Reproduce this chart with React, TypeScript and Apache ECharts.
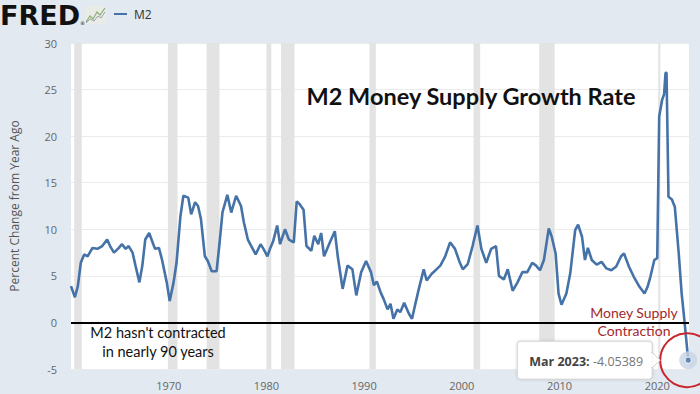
import React, { useEffect, useRef } from "react";
import * as echarts from "echarts";

const years = [
  1960.0, 1960.4, 1960.7, 1961.0, 1961.35, 1961.7, 1962.2, 1962.7, 1963.2, 1963.7,
  1964.0, 1964.4, 1964.9, 1965.2, 1965.6, 1965.9, 1966.3, 1966.6, 1967.0, 1967.3,
  1967.6, 1968.0, 1968.3, 1968.6, 1969.0, 1969.3, 1969.8, 1970.1, 1970.5, 1970.8,
  1971.2, 1971.5, 1972.0, 1972.3, 1972.7, 1973.0, 1973.3, 1973.7, 1974.0, 1974.4,
  1974.9, 1975.2, 1975.5, 1976.0, 1976.4, 1976.9, 1977.4, 1977.7, 1978.1, 1978.6,
  1978.9, 1979.4, 1979.7, 1980.1, 1980.4, 1980.7, 1981.1, 1981.4, 1981.9, 1982.3,
  1982.8, 1983.1, 1983.4, 1983.8, 1984.1, 1984.6, 1984.9, 1985.3, 1985.6, 1985.9,
  1986.5, 1987.0, 1987.3, 1987.8, 1988.3, 1988.8, 1989.2, 1989.7, 1990.2, 1990.7,
  1991.0, 1991.3, 1991.7, 1992.0, 1992.4, 1992.7, 1993.0, 1993.4, 1993.7, 1994.1,
  1994.6, 1994.9, 1995.2, 1995.6, 1996.1, 1996.4, 1996.9, 1997.4, 1997.8, 1998.3,
  1998.8, 1999.3, 1999.8, 2000.1, 2000.6, 2001.1, 2001.6, 2002.0, 2002.5, 2003.0,
  2003.5, 2003.8, 2004.3, 2004.7, 2005.2, 2005.7, 2006.2, 2006.7, 2007.2, 2007.6,
  2008.0, 2008.4, 2008.9, 2009.2, 2009.6, 2009.9, 2010.2, 2010.7, 2011.1, 2011.6,
  2011.9, 2012.3, 2012.6, 2012.9, 2013.3, 2013.8, 2014.3, 2014.8, 2015.3, 2015.8,
  2016.3, 2016.6, 2017.1, 2017.6, 2018.2, 2018.7, 2019.0, 2019.3, 2019.7, 2020.0,
  2020.2, 2020.5, 2020.7, 2020.85, 2020.95, 2021.15, 2021.5, 2021.8, 2022.2, 2022.5,
  2022.8, 2023.17,
];

const values = [
  3.9, 2.7, 3.9, 6.4, 7.3, 7.1, 8.0, 7.9, 8.2, 8.9,
  8.2, 7.5, 8.0, 8.4, 7.9, 8.2, 7.5, 6.1, 4.3, 6.1,
  8.9, 9.6, 8.75, 7.9, 8.0, 6.8, 4.3, 2.3, 4.3, 6.4,
  11.4, 13.6, 13.4, 11.6, 12.9, 12.5, 11.1, 7.1, 6.6, 5.5,
  5.5, 8.5, 11.8, 13.7, 11.8, 13.6, 12.5, 10.7, 8.9, 7.9,
  7.3, 8.4, 7.9, 7.1, 8.0, 8.75, 10.4, 8.4, 10.0, 8.9,
  8.6, 13.0, 12.7, 12.1, 8.2, 7.7, 9.3, 8.4, 9.6, 7.1,
  8.6, 9.8, 7.1, 3.6, 6.1, 5.7, 2.9, 5.4, 6.6, 5.4,
  4.0, 4.4, 3.2, 2.5, 1.4, 2.0, 0.4, 1.4, 1.1, 2.1,
  0.9, 0.4, 1.8, 3.6, 5.7, 4.5, 5.2, 5.7, 6.1, 7.1,
  8.6, 7.9, 6.4, 5.7, 6.25, 8.2, 10.4, 7.9, 6.4, 7.9,
  8.2, 5.0, 4.6, 5.7, 3.4, 4.3, 5.4, 5.4, 6.4, 6.1,
  5.6, 6.7, 10.1, 9.2, 7.4, 3.1, 1.9, 3.1, 5.3, 9.9,
  10.5, 9.2, 6.7, 8.0, 6.7, 6.2, 6.5, 5.8, 5.6, 6.0,
  7.1, 7.4, 6.0, 4.9, 3.8, 3.1, 3.8, 4.9, 6.7, 6.9,
  22.1, 23.9, 24.5, 26.8, 26.8, 13.5, 13.2, 12.4, 7.4, 3.1,
  0.0, -4.05389,
];

const recessionStarts = [1960.33, 1969.92, 1973.88, 1980.0, 1981.5, 1990.55, 2001.2, 2007.92, 2020.1];
const recessionEnds = [1961.1, 1970.9, 1975.2, 1980.5, 1982.88, 1991.2, 2001.88, 2009.5, 2020.32];

const yTicks = { min: -5, max: 30, step: 5 };
const xTicks = { min: 1960, max: 2023.25, step: 10 };

const lastLabel = "Mar 2023:";
const lastValueText = "-4.05389";

const LINE = "#4572a7";
const BG = "#e2e9f0";

export default function App() {
  const ref = useRef<HTMLDivElement>(null);

  useEffect(() => {
    document.body.style.margin = "0";
    const chart = echarts.init(ref.current!, undefined, { renderer: "svg" });
    const data = years.map((y, i) => [y, values[i]]);
    const last = data[data.length - 1];

    chart.setOption({
      animation: false,
      backgroundColor: BG,
      grid: {
        left: 64,
        right: 11,
        top: 43,
        bottom: 25,
        show: true,
        backgroundColor: "#ffffff",
        borderWidth: 0,
      },
      xAxis: {
        type: "value",
        min: xTicks.min,
        max: xTicks.max,
        interval: xTicks.step,
        axisLine: { show: false },
        axisTick: { show: false },
        splitLine: { show: false },
        axisLabel: {
          color: "#666",
          fontSize: 11,
          fontFamily: "Open Sans",
          margin: 11,
          formatter: (v: number) => (v % 10 === 0 && v !== 1960 ? String(v) : ""),
        },
      },
      yAxis: {
        type: "value",
        min: yTicks.min,
        max: yTicks.max,
        interval: yTicks.step,
        name: "Percent Change from Year Ago",
        nameLocation: "middle",
        nameRotate: 90,
        nameGap: 51,
        nameTextStyle: { color: "#555", fontSize: 12, fontFamily: "Open Sans" },
        axisLine: { show: false },
        axisTick: { show: false },
        splitLine: { lineStyle: { color: "#ebebeb", width: 1 } },
        axisLabel: { color: "#666", fontSize: 11, fontFamily: "Open Sans", margin: 14 },
      },
      series: [
        {
          type: "line",
          data,
          showSymbol: false,
          lineStyle: { color: LINE, width: 2.6 },
          itemStyle: { color: LINE },
          z: 3,
          markArea: {
            silent: true,
            itemStyle: { color: "#e3e3e3" },
            data: recessionStarts.map((s, i) => [{ xAxis: s }, { xAxis: recessionEnds[i] }]),
          },
          markLine: {
            silent: true,
            symbol: "none",
            label: { show: false },
            lineStyle: { color: "#000", width: 2, type: "solid" },
            data: [{ yAxis: 0 }],
            z: 4,
          },
        },
        {
          type: "scatter",
          data: [last],
          symbolSize: 18,
          itemStyle: { color: "#c8d4e4" },
          z: 5,
          silent: true,
        },
        {
          type: "scatter",
          data: [last],
          symbolSize: 6,
          itemStyle: { color: LINE, borderColor: "#fff", borderWidth: 1 },
          z: 6,
          silent: true,
        },
      ],
    });

    const [px, py] = chart.convertToPixel({ gridIndex: 0 }, last as any) as number[];
    const boxW = 135;
    const boxH = 38;
    const boxRight = px - 36;

    chart.setOption({
      graphic: [
        {
          type: "text",
          left: 0,
          top: 2,
          style: {
            text: "FRED",
            fontFamily: "DejaVu Sans",
            fontWeight: 900,
            fontSize: 27,
            fill: "#111",
          },
        },
        {
          type: "text",
          left: 80,
          top: 20,
          style: { text: "®", fontSize: 5, fill: "#111", fontFamily: "DejaVu Sans" },
        },
        {
          type: "rect",
          shape: { x: 85, y: 6, width: 21, height: 18 },
          style: { fill: "#e9ece6" },
        },
        {
          type: "polyline",
          shape: { points: [[86, 22], [90, 16], [93, 19], [97, 12], [100, 15], [105, 8]] },
          style: { stroke: "#8fae7a", lineWidth: 1.2, fill: "none" },
        },
        {
          type: "polyline",
          shape: { points: [[86, 23], [90, 19], [94, 21], [98, 16], [101, 18], [105, 12]] },
          style: { stroke: "#9aa0a6", lineWidth: 1, fill: "none" },
        },
        {
          type: "line",
          shape: { x1: 114, y1: 14, x2: 127, y2: 14 },
          style: { stroke: LINE, lineWidth: 2 },
        },
        {
          type: "text",
          x: 134,
          y: 14,
          style: {
            text: "M2",
            fontSize: 12,
            fontFamily: "Open Sans",
            fill: "#333",
            verticalAlign: "middle",
          },
        },
        {
          type: "text",
          x: 471,
          y: 96,
          style: {
            text: "M2 Money Supply Growth Rate",
            fontFamily: "Lato",
            fontWeight: "bold",
            fontSize: 23.5,
            fill: "#111",
            align: "center",
            verticalAlign: "middle",
          },
          z: 10,
        },
        {
          type: "text",
          x: 158,
          y: 342,
          style: {
            text: "M2 hasn't contracted\nin nearly 90 years",
            fontFamily: "Lato",
            fontSize: 14.5,
            lineHeight: 19,
            fill: "#111",
            align: "center",
            verticalAlign: "middle",
          },
          z: 10,
        },
        {
          type: "text",
          x: 634,
          y: 321,
          style: {
            text: "Money Supply\nContraction",
            fontFamily: "Lato",
            fontSize: 14,
            lineHeight: 18,
            fill: "#a3282c",
            align: "center",
            verticalAlign: "middle",
          },
          z: 10,
        },
        {
          type: "circle",
          shape: { cx: px - 1, cy: py, r: 27 },
          style: { fill: "none", stroke: "#c8262c", lineWidth: 2 },
          z: 10,
        },
        {
          type: "rect",
          shape: { x: boxRight - boxW, y: py - boxH / 2, width: boxW, height: boxH, r: 3 },
          style: { fill: "#fff", stroke: "#cfcfcf", lineWidth: 1, shadowBlur: 3, shadowColor: "rgba(0,0,0,0.15)" },
          z: 11,
        },
        {
          type: "polygon",
          shape: { points: [[boxRight - 0.5, py - 8], [boxRight + 8, py], [boxRight - 0.5, py + 8]] },
          style: { fill: "#fff", stroke: "#cfcfcf", lineWidth: 1 },
          z: 11,
        },
        {
          type: "rect",
          shape: { x: boxRight - 2, y: py - 7, width: 2, height: 14 },
          style: { fill: "#fff" },
          z: 12,
        },
        {
          type: "text",
          x: boxRight - boxW + 12,
          y: py + 1,
          style: {
            text: "{a|" + lastLabel + "} {b|" + lastValueText + "}",
            verticalAlign: "middle",
            rich: {
              a: { fontFamily: "Open Sans", fontSize: 12.5, fontWeight: "bold", fill: "#444" },
              b: { fontFamily: "Open Sans", fontSize: 12.5, fill: "#777" },
            },
          },
          z: 12,
        },
      ],
    });

    return () => chart.dispose();
  }, []);

  return <div ref={ref} style={{ width: 700, height: 394 }} />;
}
